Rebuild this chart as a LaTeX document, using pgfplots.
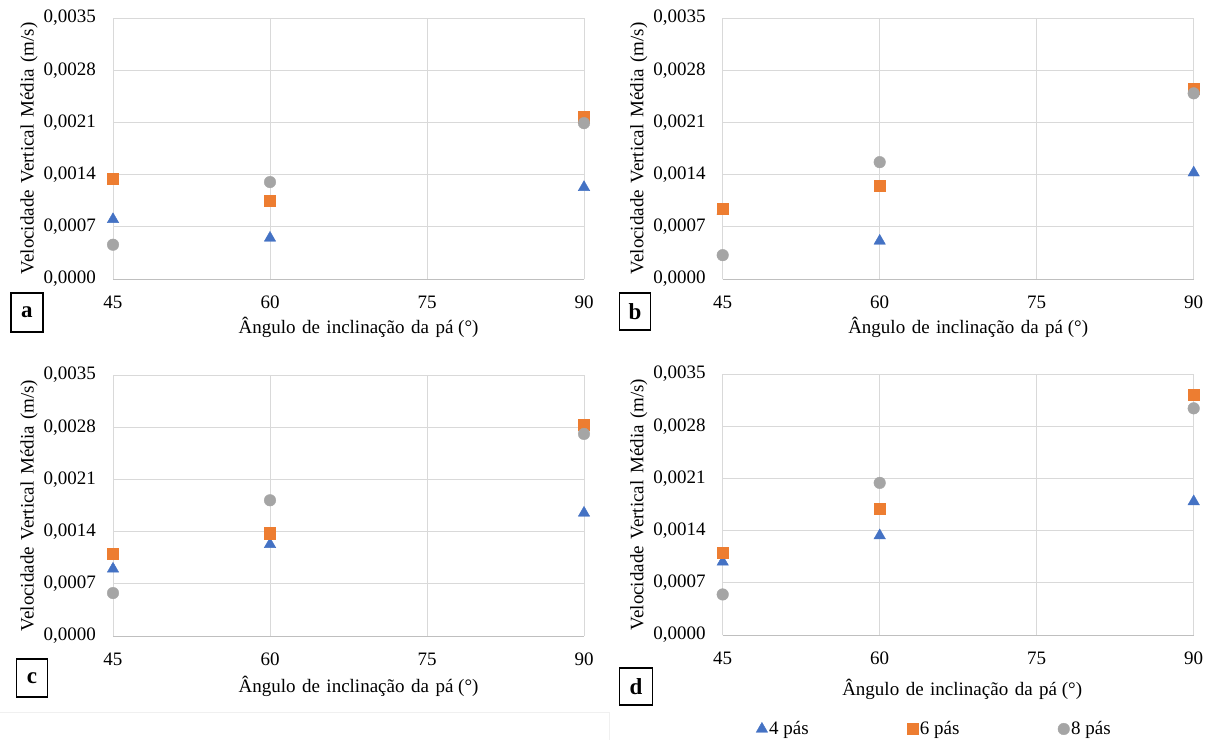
\documentclass[border=0pt]{standalone}
\usepackage{fontspec}
\setmainfont{Liberation Serif}
\usepackage{pgfplots}
\pgfplotsset{compat=1.18}
\definecolor{cBlue}{HTML}{4472C4}
\definecolor{cOrange}{HTML}{ED7D31}
\definecolor{cGray}{HTML}{A5A5A5}
\definecolor{cGrid}{HTML}{D9D9D9}
\definecolor{cBase}{HTML}{BFBFBF}
\newcommand{\fs}{\fontsize{19}{22}\selectfont}
\newcommand{\wsp}{\hspace{6.5pt}}
\pgfplotsset{
  panel/.style={
    scale only axis, width=471pt, height=261pt,
    xmin=45, xmax=90, ymin=0, ymax=0.0035,
    xtick={45,60,75,90},
    ytick={0,0.0007,0.0014,0.0021,0.0028,0.0035},
    scaled y ticks=false,
    grid=major, major grid style={draw=cGrid, line width=0.9pt},
    axis line style={draw=none}, tick style={draw=none},
    extra y ticks={0}, extra y tick labels={},
    extra y tick style={grid=major, major grid style={draw=cBase, line width=1pt}},
    clip=false,
    /pgf/number format/assume math mode=true,
    yticklabel style={/pgf/number format/fixed, /pgf/number format/fixed zerofill,
      /pgf/number format/precision=4, /pgf/number format/use comma},
    ticklabel style={font=\fs},
    yticklabel style={anchor=east, inner sep=0pt, xshift=-17pt},
    xticklabel style={anchor=center, inner sep=0pt, yshift=-23pt},
    xlabel={Ângulo\wsp de\wsp inclinação\wsp da\wsp pá (°)},
    ylabel={Velocidade\wsp Vertical\wsp Média\wsp (m/s)},
    label style={font=\fs, inner sep=0pt},
    ylabel style={at={(axis description cs:-0.178,0.5)}, anchor=center},
    legend image code/.code={\draw[##1] plot coordinates {(0pt,0pt)};},
  },
  xlab/.style={xlabel style={at={(axis description cs:0.5,0)}, anchor=base, yshift=-#1pt}},
  s4/.style={only marks, mark=triangle*, mark size=6.6pt, color=cBlue},
  s6/.style={only marks, mark=square*, mark size=5.6pt, color=cOrange},
  s8/.style={only marks, mark=*, mark size=5.8pt, color=cGray},
}
\begin{document}
\begin{tikzpicture}
\path[fill=white, use as bounding box] (0pt,0pt) rectangle (1213pt,-740pt);
\draw[draw=black!6, line width=0.8pt] (0pt,-712pt) -- (609pt,-712pt) -- (609pt,-740pt);

% panel a
\begin{axis}[panel, at={(113pt,-279pt)}, anchor=south west, xlab=54,
  xlabel style={xshift=10pt}]
\addplot[s4] coordinates {(45,0.00080) (60,0.00055) (90,0.00123)};
\addplot[s6] coordinates {(45,0.001345) (60,0.001055) (90,0.00217)};
\addplot[s8] coordinates {(45,0.00046) (60,0.00130) (90,0.00209)};
\end{axis}

% panel b
\begin{axis}[panel, at={(722.7pt,-279pt)}, anchor=south west, xlab=54,
  xlabel style={xshift=10pt}]
\addplot[s4] coordinates {(45,0.000915) (60,0.00051) (90,0.001425)};
\addplot[s6] coordinates {(45,0.00094) (60,0.001255) (90,0.00255)};
\addplot[s8] coordinates {(45,0.00032) (60,0.001567) (90,0.00249)};
\end{axis}

% panel c
\begin{axis}[panel, at={(113pt,-636pt)}, anchor=south west, xlab=56,
  xlabel style={xshift=10pt}]
\addplot[s4] coordinates {(45,0.00090) (60,0.00123) (90,0.00165)};
\addplot[s6] coordinates {(45,0.00110) (60,0.00138) (90,0.00283)};
\addplot[s8] coordinates {(45,0.000576) (60,0.00182) (90,0.00271)};
\end{axis}

% panel d
\begin{axis}[panel, at={(722.7pt,-635pt)}, anchor=south west, xlab=60,
  xlabel style={xshift=4pt},
  legend columns=3,
  legend style={at={(axis description cs:0.0707,-0.36)}, anchor=west,
    draw=none, fill=none, inner sep=0pt, font=\fs,
    nodes={inner sep=1.5pt},
    /tikz/every odd column/.append style={column sep=0pt},
    /tikz/every even column/.append style={column sep=97pt}},
  legend cell align=left]
\addplot[s4] coordinates {(45,0.00098) (60,0.001334) (90,0.00179)};
\addplot[s6] coordinates {(45,0.00110) (60,0.00169) (90,0.00322)};
\addplot[s8] coordinates {(45,0.000544) (60,0.00204) (90,0.00304)};
\legend{4 pás, 6 pás, 8 pás}
\end{axis}

% panel letters
\tikzset{plet/.style={draw=black, line width=1.2pt, inner sep=0pt,
  font=\fontsize{23}{23}\selectfont\bfseries}}
\node[plet, minimum width=32pt, minimum height=39pt] at (26.9pt,-312.5pt) {a};
\node[plet, minimum width=31pt, minimum height=37pt] at (635pt,-311.5pt) {b};
\node[plet, minimum width=31pt, minimum height=38pt] at (31.9pt,-678pt) {c};
\node[plet, minimum width=33pt, minimum height=37pt] at (636pt,-686.5pt) {d};
\end{tikzpicture}
\end{document}
